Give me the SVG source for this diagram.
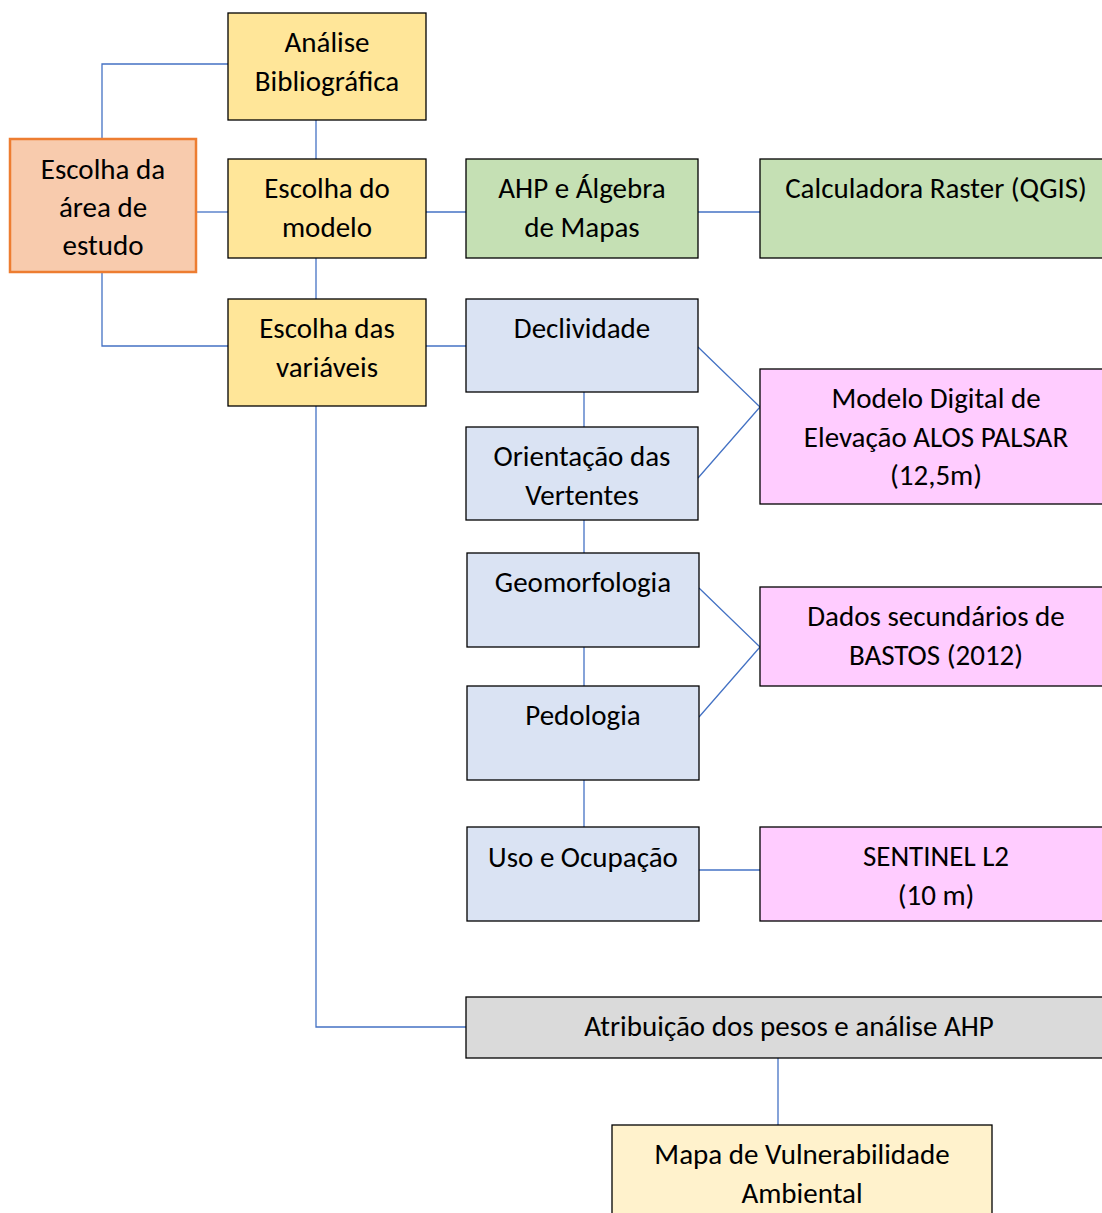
<svg xmlns="http://www.w3.org/2000/svg" width="1102" height="1213" viewBox="0 0 1102 1213">
<style>
.t{font-family:Carlito,Lato,"Liberation Sans",sans-serif;font-size:29px;fill:#000;text-anchor:middle}
.b{stroke:#000;stroke-width:1.3}
.y{fill:#FFE699}
.g{fill:#C5E0B4}
.l{fill:#DAE3F3}
.p{fill:#FFCCFF}
.c{fill:none;stroke:#4472C4;stroke-width:1.3}
</style>
<rect width="1102" height="1213" fill="#fff"/>
<g id="connectors" class="c">
<polyline points="102,139 102,64 228,64"/>
<line x1="196" y1="212" x2="228" y2="212"/>
<polyline points="102,272 102,346 228,346"/>
<line x1="316" y1="120" x2="316" y2="159"/>
<line x1="316" y1="258" x2="316" y2="299"/>
<line x1="426" y1="212" x2="466" y2="212"/>
<line x1="698" y1="212" x2="760" y2="212"/>
<line x1="426" y1="346" x2="466" y2="346"/>
<polyline points="316,406 316,1027 466,1027"/>
<line x1="584" y1="392" x2="584" y2="427"/>
<line x1="584" y1="520" x2="584" y2="553"/>
<line x1="584" y1="647" x2="584" y2="686"/>
<line x1="584" y1="780" x2="584" y2="827"/>
<polyline points="698,347 760,407 698,478"/>
<polyline points="699,588 760,647 699,717"/>
<line x1="699" y1="870" x2="760" y2="870"/>
<line x1="778" y1="1058" x2="778" y2="1125"/>
</g>
<g id="analise"><rect class="b y" x="228" y="13" width="198" height="107"/><text class="t" x="327" y="52">Análise</text><text class="t" x="327" y="91">Bibliográfica</text></g>
<g id="area"><rect x="10" y="139" width="186" height="133" fill="#F8CBAD" stroke="#ED7D31" stroke-width="2.5"/><text class="t" x="103" y="179">Escolha da</text><text class="t" x="103" y="217">área de</text><text class="t" x="103" y="255">estudo</text></g>
<g id="modelo"><rect class="b y" x="228" y="159" width="198" height="99"/><text class="t" x="327" y="198">Escolha do</text><text class="t" x="327" y="237">modelo</text></g>
<g id="variaveis"><rect class="b y" x="228" y="299" width="198" height="107"/><text class="t" x="327" y="338">Escolha das</text><text class="t" x="327" y="377">variáveis</text></g>
<g id="ahp"><rect class="b g" x="466" y="159" width="232" height="99"/><text class="t" x="582" y="198">AHP e Álgebra</text><text class="t" x="582" y="237">de Mapas</text></g>
<g id="calc"><rect class="b g" x="760" y="159" width="346" height="99"/><text class="t" x="936" y="198">Calculadora Raster (QGIS)</text></g>
<g id="declividade"><rect class="b l" x="466" y="299" width="232" height="93"/><text class="t" x="582" y="338">Declividade</text></g>
<g id="orientacao"><rect class="b l" x="466" y="427" width="232" height="93"/><text class="t" x="582" y="466">Orientação das</text><text class="t" x="582" y="505">Vertentes</text></g>
<g id="mde"><rect class="b p" x="760" y="369" width="346" height="135"/><text class="t" x="936" y="408">Modelo Digital de</text><text class="t" x="936" y="447">Elevação ALOS PALSAR</text><text class="t" x="936" y="485">(12,5m)</text></g>
<g id="geomorfologia"><rect class="b l" x="467" y="553" width="232" height="94"/><text class="t" x="583" y="592">Geomorfologia</text></g>
<g id="dados"><rect class="b p" x="760" y="587" width="346" height="99"/><text class="t" x="936" y="626">Dados secundários de</text><text class="t" x="936" y="665">BASTOS (2012)</text></g>
<g id="pedologia"><rect class="b l" x="467" y="686" width="232" height="94"/><text class="t" x="583" y="725">Pedologia</text></g>
<g id="uso"><rect class="b l" x="467" y="827" width="232" height="94"/><text class="t" x="583" y="867">Uso e Ocupação</text></g>
<g id="sentinel"><rect class="b p" x="760" y="827" width="346" height="94"/><text class="t" x="936" y="866">SENTINEL L2</text><text class="t" x="936" y="905">(10 m)</text></g>
<g id="atribuicao"><rect class="b" fill="#DADADA" x="466" y="997" width="640" height="61"/><text class="t" x="789" y="1036">Atribuição dos pesos e análise AHP</text></g>
<g id="mapa"><rect class="b" fill="#FFF2CC" x="612" y="1125" width="380" height="95"/><text class="t" x="802" y="1164">Mapa de Vulnerabilidade</text><text class="t" x="802" y="1203">Ambiental</text></g>
</svg>
